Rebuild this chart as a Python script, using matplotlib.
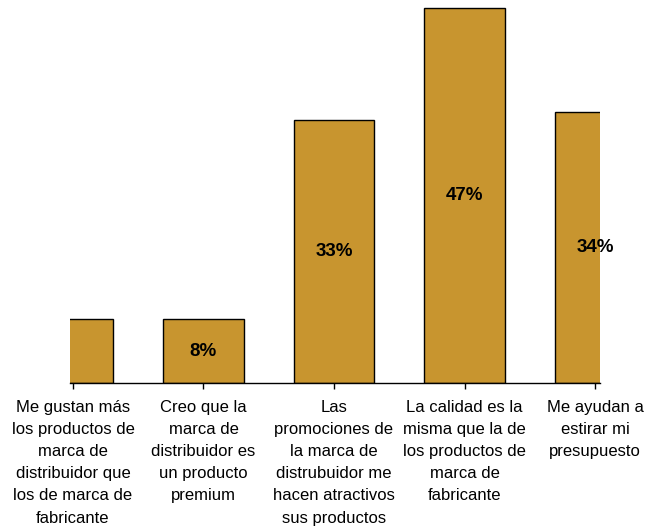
import matplotlib.pyplot as plt
import numpy as np

plt.rcParams['font.family'] = ['Liberation Sans', 'DejaVu Sans']

# datos
categorias = [
    'Me gustan más\nlos productos de\nmarca de\ndistribuidor que\nlos de marca de\nfabricante',
    'Creo que la\nmarca de\ndistribuidor es\nun producto\npremium',
    'Las\npromociones de\nla marca de\ndistrubuidor me\nhacen atractivos\nsus productos',
    'La calidad es la\nmisma que la de\nlos productos de\nmarca de\nfabricante',
    'Me ayudan a\nestirar mi\npresupuesto',
]
valores = [8, 8, 33, 47, 34]
etiquetas = ['', '8%', '33%', '47%', '34%']

fig = plt.figure(figsize=(6.57, 5.30), dpi=100)
ax = fig.add_axes([0.1065, 0.2774, 0.8067, 0.7196])

x = np.arange(len(categorias))
ax.bar(x, valores, width=0.62, color='#C8952F', edgecolor='black', linewidth=1)

for xi, v, t in zip(x, valores, etiquetas):
    ax.text(xi, v / 2, t, ha='center', va='center', fontsize=13.5,
            fontweight='bold', color='black', clip_on=False)

ax.set_xlim(-0.023, 4.038)
ax.set_ylim(0, 47.8)
ax.set_xticks(x)
ax.set_xticklabels(categorias, fontsize=12, linespacing=1.6, va='top')
ax.tick_params(axis='x', length=4, width=1, direction='out', pad=8)
ax.set_yticks([])
for s in ['top', 'right', 'left']:
    ax.spines[s].set_visible(False)
ax.spines['bottom'].set_linewidth(1)

plt.savefig('out.png', dpi=100)
